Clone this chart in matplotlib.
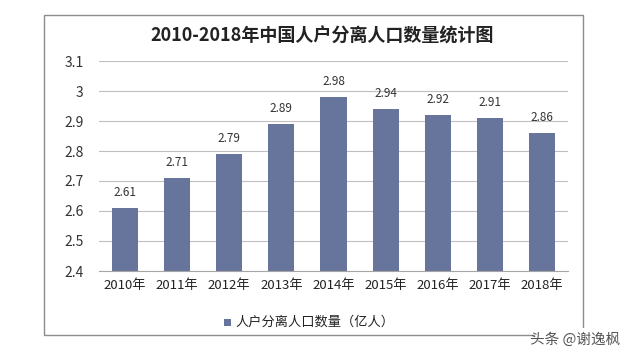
import matplotlib
matplotlib.use("Agg")
import matplotlib.pyplot as plt
from matplotlib.patches import Rectangle

plt.rcParams['font.family'] = ['Noto Sans CJK SC', 'DejaVu Sans']

years = ['2010年', '2011年', '2012年', '2013年', '2014年', '2015年', '2016年', '2017年', '2018年']
values = [2.61, 2.71, 2.79, 2.89, 2.98, 2.94, 2.92, 2.91, 2.86]
yticks = [2.4, 2.5, 2.6, 2.7, 2.8, 2.9, 3.0, 3.1]
ytick_labels = ['2.4', '2.5', '2.6', '2.7', '2.8', '2.9', '3', '3.1']
title = '2010-2018年中国人户分离人口数量统计图'
legend_label = '人户分离人口数量（亿人）'
watermark = '头条 @谢逸枫'
bar_color = '#67749B'

W, H = 625, 360
fig = plt.figure(figsize=(W/100, H/100), dpi=100)
fig.patch.set_facecolor('white')

# outer border
fig.patches.append(Rectangle((44/W, 1-335/H), (583-44)/W, (335-15)/H,
                             transform=fig.transFigure, fill=False,
                             edgecolor='#8c8c8c', linewidth=1.0))

ax = fig.add_axes([99/W, 1-271/H, (568-99)/W, (271-61)/H])
x = range(len(years))
bars = ax.bar(x, values, width=0.5, color=bar_color, zorder=3)
ax.set_ylim(2.4, 3.1)
ax.set_xlim(-0.5, len(years)-0.5)
ax.set_yticks(yticks)
ax.set_yticklabels(ytick_labels, fontsize=10, color='#333333')
ax.set_xticks(list(x))
ax.set_xticklabels(years, fontsize=9.5, color='#222222')
ax.tick_params(axis='both', length=0, pad=6)
ax.tick_params(axis='y', pad=11)
ax.grid(axis='y', color='#bfbfbf', linewidth=0.8, zorder=0)
for s in ['top', 'right', 'left']:
    ax.spines[s].set_visible(False)
ax.spines['bottom'].set_color('#a6a6a6')
ax.spines['bottom'].set_zorder(4)

for xi, v in zip(x, values):
    ax.text(xi, v + 0.03, f'{v:.2f}', ha='center', va='bottom', fontsize=8.5, color='#333333')

fig.text(322/W, 1-36/H, title, ha='center', va='center', fontsize=13, fontweight='bold', color='#222222')

# legend
fig.patches.append(Rectangle((224/W, 1-326/H), 7/W, 7/H, transform=fig.transFigure,
                             facecolor=bar_color, edgecolor='none'))
fig.text(235/W, 1-322/H, legend_label, ha='left', va='center', fontsize=9.5, color='#222222')

# watermark
fig.patches.append(Rectangle((535/W, 1-352/H), 90/W, 24/H, transform=fig.transFigure,
                             facecolor='white', edgecolor='none', zorder=5))
fig.text(575/W, 1-340/H, watermark, ha='center', va='center', fontsize=10.5,
         color='#555555', zorder=6)

fig.savefig('out.png', dpi=100)
